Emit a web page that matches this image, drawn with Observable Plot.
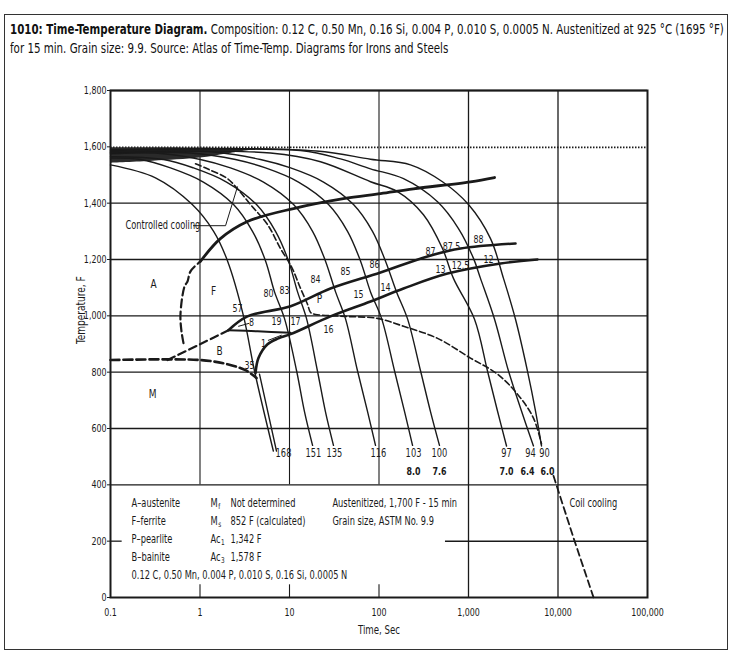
<!DOCTYPE html>
<html><head><meta charset="utf-8">
<script src="https://cdn.jsdelivr.net/npm/d3@7"></script>
<script src="https://cdn.jsdelivr.net/npm/@observablehq/plot@0.6"></script>
<style>
body{margin:0;background:#fff;font-family:"Liberation Sans Narrow","DejaVu Sans Condensed","Roboto Condensed","DejaVu Sans",sans-serif;font-stretch:condensed;}
#wrap{position:relative;width:731px;height:655px;overflow:hidden;background:#fff;}
#title{position:absolute;left:10px;top:20px;font-size:14.5px;line-height:19px;color:#111;white-space:nowrap;transform-origin:0 0;}
#title b{font-weight:bold;}
#chart{position:absolute;left:0;top:70px;}
#border{position:absolute;left:4px;top:14px;width:722px;height:634px;border:1.5px solid #333;pointer-events:none;}
</style></head><body>
<div id="wrap">
<div id="border"></div>
<div id="title"><b>1010: Time-Temperature Diagram.</b> Composition: 0.12 C, 0.50 Mn, 0.16 Si, 0.004 P, 0.010 S, 0.0005 N. Austenitized at 925 °C (1695 °F)<br>for 15 min. Grain size: 9.9. Source: Atlas of Time-Temp. Diagrams for Irons and Steels</div>
<div id="chart"></div>
</div>
<script>
// ---------- data (time s, temperature F) ----------
const xTicks = [0.1, 1, 10, 100, 1000, 10000, 100000];
const yTicks = [0, 200, 400, 600, 800, 1000, 1200, 1400, 1600, 1800];
const gridFullY = [400, 600, 800, 1000, 1200, 1400, 1800];
const gridDottedY = [1598];
const gridUpperX = [1, 10, 100];
const gridFullX = [1000, 10000];

// cooling curves
const c168 = [[0.1,1536],[0.318,1490],[0.82,1395],[1.42,1300],[2.03,1195],[3.06,1000],[4.06,805],[6.6,520]];
const c168b = [[4.62,793],[7.16,520]];
const c151 = [[0.1,1560],[0.216,1555],[0.468,1525],[1.09,1475],[2.37,1395],[3.86,1300],[5.4,1195],[6.8,1085],[8.8,990],[12.0,805],[14.7,660],[18.1,540]];
const c135 = [[0.1,1565],[0.391,1555],[0.846,1525],[1.98,1475],[4.28,1395],[6.98,1300],[9.75,1195],[12.3,1085],[15.5,990],[20.5,805],[25.2,660],[31,540]];
const c116 = [[0.1,1575],[0.318,1578],[1.01,1555],[2.19,1525],[5.12,1475],[11.1,1395],[18.1,1300],[25.2,1195],[32.7,1085],[42.2,990],[57.5,805],[74.5,660],[91.4,540]];
const c103 = [[0.1,1578],[0.783,1578],[2.49,1555],[5.4,1525],[12.6,1475],[27.3,1395],[44.5,1300],[62.1,1195],[80.4,1085],[107,990],[149,805],[193,660],[237,540]];
const c100 = [[0.1,1580],[1.49,1581],[4.74,1555],[10.3,1525],[24,1475],[51.9,1395],[84.6,1300],[118,1195],[157,1085],[208,990],[291,805],[376,660],[474,540]];
const c97 = [[0.1,1583],[6.13,1578],[22.2,1547],[80.4,1476],[161,1441],[314,1359],[512,1239],[679,1133],[1167,988],[1630,804],[2108,662],[2660,538]];
const c94 = [[0.1,1587],[13.3,1587],[37.2,1557],[80.4,1522],[188,1487],[451,1405],[773,1310],[1137,1204],[1361,1133],[1954,988],[2799,804],[3909,662],[5320,538]];
const c90 = [[0.1,1590],[20,1585],[80.4,1556],[225,1536],[512,1476],[1000,1395],[1762,1274],[2460,1133],[3350,988],[4560,804],[5610,662],[6540,538]];
const coolingCurves = [c168, c168b, c151, c135, c116, c103, c100, c97, c94, c90];

// dark band of converging curves near austenitizing temperature
const bandTime = [0.1, 0.3, 1, 2, 4];
const bandLow = [1542, 1549, 1560, 1575, 1590];
const bandHigh = [1597, 1597, 1596, 1595, 1594];

// controlled cooling (dashed) curve, continues as P region boundary
const controlled = [[0.891,1540],[1.21,1522],[2.03,1487],[2.62,1451],[3.67,1395],[5.68,1324],[7.93,1239],[10.5,1175],[13.3,1097],[15.9,1041],[17.2,1012],[19.5,1005],[42.2,998],[96,991],[188,963],[451,920],[1052,850],[2108,793],[3525,722],[5320,637],[6540,545]];
const coilCooling = [[8900,432],[14900,212],[24950,0]];

// transformation lines
const ferriteStart = [[1.01,1193],[1.69,1274],[3.39,1335],[11.1,1381],[40.1,1416],[104,1434],[243,1451],[1052,1476],[1954,1491]];
const ferriteStartDashed = [[0.654,903],[0.621,945],[0.605,1005],[0.671,1104],[0.725,1122],[0.783,1158],[1.01,1193]];
const ferriteEnd = [[2.08,949],[3.39,998],[10.3,1034],[28.7,1097],[104,1154],[348,1211],[814,1239],[3350,1257]];
const pearliteEnd = [[4.17,797],[4.5,850],[5.68,899],[7.53,920],[10.3,935],[28.7,998],[80.4,1051],[188,1097],[582,1150],[2280,1186],[5900,1200]];
const loopBottom = [[2.08,949],[4.4,945],[10.3,940]];
const bainiteStart = [[0.1,843],[1.01,843],[2.03,828],[3.22,807],[4.28,779]];
const bainiteBranch = [[0.434,843],[1.0,899],[2.08,949]];

// leader lines
const leaders = [
  [[0.846,1320],[1.93,1320],[2.62,1458]],
  [[2.7,963],[3.5,973]],
  [[5.8,913],[8.1,931]],
  [[1052,1200],[1432,1200]]
];

// labels: [text, time, temperature]
const regionLabels = [["A",0.302,1112],["F",1.42,1087],["P",21.6,1058],["B",1.65,874],["M",0.295,722]];
const pctLabels = [["57",2.62,1027],["80",5.82,1080],["83",8.8,1090],["84",19.5,1129],["85",42.2,1158],["86",89,1182],["87",376,1228],["87.5",645,1246],["88",1294,1271],
  ["8",3.76,977],["19",7.16,981],["17",11.7,981],["15",59,1076],["14",118,1101],["13",486,1165],["12.5",814,1179],["12",1672,1200],["16",27.3,952],["1",5.12,903],["35",3.57,825]];
const hardness = [["168",8.57],["151",18.5],["135",31.8],["116",98.7],["103",243],["100",474],["97",2660],["94",4930],["90",7060]];
const hardnessTemp = 513;
const grainSizes = [["8.0",243],["7.6",474],["7.0",2660],["6.4",4560],["6.0",7640]];
const grainTemp = 446;
const legendCol1 = [["A–austenite",333],["F–ferrite",269],["P–pearlite",205],["B–bainite",142]];
const legendCol1Time = 0.172;
const legendSym = [["M",333,"f"],["M",269,"s"],["Ac",205,"1"],["Ac",142,"3"]];
const legendSymTime = 1.31;
const legendVal = ["Not determined","852 F (calculated)","1,342 F","1,578 F"];
const legendValTime = 2.19;
const compositionNote = ["0.12 C, 0.50 Mn, 0.004 P, 0.010 S, 0.16 Si, 0.0005 N", 0.172, 78];
const austNote = [["Austenitized, 1,700 F - 15 min",333],["Grain size, ASTM No. 9.9",269]];
const austTime = 30.2;
const coilLabel = ["Coil cooling", 13400, 336];
const controlledLabel = ["Controlled cooling", 0.147, 1320];

// ---------- drawing ----------
const ink = "#1a1a1a";
const font = '"Liberation Sans Narrow","DejaVu Sans Condensed","Roboto Condensed","DejaVu Sans",sans-serif';
const xs = d => d[0], ys = d => d[1];
const lineOpts = (w, dash) => ({x: xs, y: ys, stroke: ink, strokeWidth: w, curve: "catmull-rom", strokeDasharray: dash});

const marks = [
  Plot.ruleY(gridFullY, {stroke: ink, strokeWidth: 1.3}),
  Plot.ruleY(gridDottedY, {stroke: ink, strokeWidth: 1.8, strokeDasharray: "1.5,1.5"}),
  Plot.ruleY([200], {x1: 553, x2: 100000, stroke: ink, strokeWidth: 1.5}),
  Plot.ruleY([200], {x1: 0.1, x2: 0.135, stroke: ink, strokeWidth: 1.3}),
  Plot.ruleX(gridUpperX, {y1: 400, y2: 1800, stroke: ink, strokeWidth: 1.1}),
  Plot.ruleX(gridUpperX, {y1: 0, y2: 45, stroke: ink, strokeWidth: 1.1}),
  Plot.ruleX(gridFullX, {y1: 0, y2: 1800, stroke: ink, strokeWidth: 1.3}),
  Plot.areaY(bandTime.map((t, i) => ({t, lo: bandLow[i], hi: bandHigh[i]})), {x: "t", y1: "lo", y2: "hi", fill: "#2a2a2a", curve: "catmull-rom"}),
  ...coolingCurves.map(c => Plot.line(c, lineOpts(1.4))),
  Plot.line(controlled, lineOpts(1.6, "6,3")),
  Plot.line(coilCooling, {x: xs, y: ys, stroke: ink, strokeWidth: 1.8, strokeDasharray: "7,4"}),
  Plot.line(ferriteStart, lineOpts(2.8)),
  Plot.line(ferriteStartDashed, lineOpts(2.2, "8,4")),
  Plot.line(ferriteEnd, lineOpts(2.6)),
  Plot.line(pearliteEnd, lineOpts(2.6)),
  Plot.line(loopBottom, lineOpts(2)),
  Plot.line(bainiteStart, lineOpts(2.6, "9,4")),
  Plot.line(bainiteBranch, lineOpts(2.2, "8,4")),
  ...leaders.map(l => Plot.line(l, {x: xs, y: ys, stroke: ink, strokeWidth: 1})),
  Plot.frame({stroke: ink, strokeWidth: 2}),
  Plot.axisY({ticks: yTicks, tickFormat: d3.format(","), tickSize: 3, tickPadding: 1, fontSize: 11, label: null}),
  Plot.axisX({ticks: xTicks, tickFormat: d => d < 1 ? "0.1" : d3.format(",")(d), tickSize: 0, tickPadding: 11, fontSize: 11, label: null}),
  Plot.text(["Temperature, F"], {frameAnchor: "left", dx: -30, rotate: -90, fontSize: 12.5}),
  Plot.text(["Time, Sec"], {frameAnchor: "bottom", dy: 36, fontSize: 12}),
  Plot.text(regionLabels, {x: d => d[1], y: d => d[2], text: d => d[0], fontSize: 12.5}),
  Plot.text(pctLabels, {x: d => d[1], y: d => d[2], text: d => d[0], fontSize: 11}),
  Plot.text(hardness, {x: d => d[1], y: hardnessTemp, text: d => d[0], fontSize: 11.5}),
  Plot.text(grainSizes, {x: d => d[1], y: grainTemp, text: d => d[0], fontSize: 11, fontWeight: "bold"}),
  Plot.text(legendCol1, {x: legendCol1Time, y: d => d[1], text: d => d[0], textAnchor: "start", fontSize: 11.5}),
  Plot.text(legendSym, {x: legendSymTime, y: d => d[1], text: d => d[0], textAnchor: "start", fontSize: 11.5, className: "sym"}),
  Plot.text(legendSym, {x: legendSymTime, y: d => d[1], text: d => d[2], textAnchor: "start", fontSize: 8, dy: 3, className: "sub"}),
  Plot.text(legendVal, {x: legendValTime, y: (d, i) => legendSym[i][1], text: d => d, textAnchor: "start", fontSize: 11.5}),
  Plot.text([compositionNote], {x: d => d[1], y: d => d[2], text: d => d[0], textAnchor: "start", fontSize: 11.5}),
  Plot.text(austNote, {x: austTime, y: d => d[1], text: d => d[0], textAnchor: "start", fontSize: 11.5}),
  Plot.text([coilLabel], {x: d => d[1], y: d => d[2], text: d => d[0], textAnchor: "start", fontSize: 11.5}),
  Plot.text([controlledLabel], {x: d => d[1], y: d => d[2], text: d => d[0], textAnchor: "start", fontSize: 11.5})
];

const chart = Plot.plot({
  width: 731, height: 585,
  marginLeft: 110, marginRight: 84, marginTop: 20, marginBottom: 58,
  x: {type: "log", domain: [0.1, 100000]},
  y: {domain: [0, 1800]},
  style: {fontFamily: font, fontSize: "11px", color: ink, background: "transparent"},
  marks
});
document.getElementById("chart").appendChild(chart);

// condense all chart text horizontally (narrow typeface look), around each text's anchor
const squeeze = 0.8;
chart.querySelectorAll("text").forEach(t => {
  let tr = t.getAttribute("transform");
  if (!tr) {
    const x = +(t.getAttribute("x") || 0), y = +(t.getAttribute("y") || 0);
    t.setAttribute("x", 0); t.setAttribute("y", 0);
    tr = `translate(${x},${y})`;
  }
  t.setAttribute("transform", tr + ` scale(${squeeze},1)`);
});

// place subscripts right after their symbols
const syms = chart.querySelectorAll(".sym text");
const subs = chart.querySelectorAll(".sub text");
subs.forEach((s, i) => {
  const w = syms[i].getComputedTextLength();
  s.setAttribute("transform", s.getAttribute("transform") + ` translate(${w + 0.6},0)`);
});

// fit the title into the page width
const title = document.getElementById("title");
const tw = title.scrollWidth;
if (tw > 714) title.style.transform = `scaleX(${714 / tw})`;
</script>
</body></html>
